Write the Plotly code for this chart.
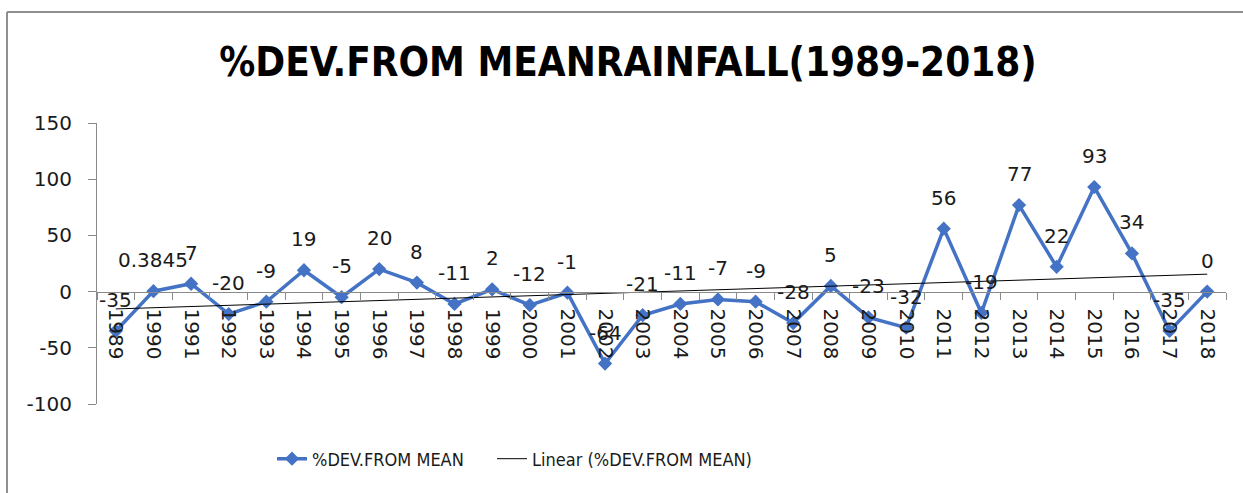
import numpy as np
import plotly.graph_objects as go

years = [str(y) for y in range(1989, 2019)]
dev_values = [-35, 0.3845, 7, -20, -9, 19, -5, 20, 8, -11, 2, -12, -1, -64, -21,
              -11, -7, -9, -28, 5, -23, -32, 56, -19, 77, 22, 93, 34, -35, 0]
dev_labels = ["-35", "0.3845", "7", "-20", "-9", "19", "-5", "20", "8", "-11", "2",
              "-12", "-1", "-64", "-21", "-11", "-7", "-9", "-28", "5", "-23", "-32",
              "56", "-19", "77", "22", "93", "34", "-35", "0"]
y_ticks = [-100, -50, 0, 50, 100, 150]
y_tick_text = ["-100", "-50", "0", "50", "100", "150"]

series_name = "%DEV.FROM MEAN"
trend_name = "Linear (%DEV.FROM MEAN)"
title_text = "%DEV.FROM MEANRAINFALL(1989-2018)"

idx = np.arange(len(dev_values))
slope, intercept = np.polyfit(idx, np.array(dev_values, dtype=float), 1)
trend = slope * idx + intercept

num_font = "DejaVu Sans"
narrow_font = "DejaVu Sans Condensed, sans-serif"
txt_color = "#1a1a1a"
axis_color = "#8a8a8a"

fig = go.Figure()
fig.add_trace(go.Scatter(
    x=years, y=dev_values, mode="lines+markers", name=series_name,
    line=dict(color="#4472C4", width=3.5),
    marker=dict(symbol="diamond", size=11, color="#4472C4"),
    legend="legend",
))
fig.add_trace(go.Scatter(
    x=years, y=trend, mode="lines", name=trend_name,
    line=dict(color="#000000", width=1),
    legend="legend2",
))

for i, (v, lab) in enumerate(zip(dev_values, dev_labels)):
    fig.add_annotation(x=i, y=v, xref="x", yref="y", text=lab, showarrow=False,
                       yanchor="bottom", yshift=17,
                       font=dict(family=num_font, size=20, color=txt_color))

W, H = 1243, 493
ml, mr, mt, mb = 97, 17, 123, 89
pw, ph = W - ml - mr, H - mt - mb

def px_x(p):
    return (p - ml) / pw

def px_y(p):
    return 1 - (p - mt) / ph

border = dict(color="#8f8f8f", width=2)
fig.add_shape(type="line", xref="paper", yref="paper",
              x0=px_x(7), x1=px_x(W + 5), y0=px_y(12), y1=px_y(12), line=border)
fig.add_shape(type="line", xref="paper", yref="paper",
              x0=px_x(7), x1=px_x(7), y0=px_y(12), y1=px_y(H + 5), line=border)

legend_common = dict(orientation="h", yanchor="middle", y=px_y(459), xanchor="left",
                     font=dict(family=narrow_font, size=18, color=txt_color),
                     bgcolor="rgba(0,0,0,0)")

fig.update_layout(
    width=W, height=H,
    margin=dict(l=ml, r=mr, t=mt, b=mb),
    paper_bgcolor="white", plot_bgcolor="white",
    title=dict(text=f"<b>{title_text}</b>", x=628 / W, xanchor="center",
               y=1 - 62 / H, yanchor="middle", yref="container",
               font=dict(family=narrow_font, size=40, color="#000000")),
    xaxis=dict(type="category", range=[-0.5, len(years) - 0.5],
               anchor="free", position=100 / 250,
               showline=True, linecolor=axis_color, linewidth=1,
               ticks="outside", tickson="boundaries", ticklen=7, tickcolor=axis_color,
               tickangle=90, ticklabelstandoff=12,
               tickfont=dict(family=num_font, size=20, color=txt_color),
               showgrid=False, zeroline=False),
    yaxis=dict(range=[-100, 150], tickvals=y_ticks, ticktext=y_tick_text,
               showline=True, linecolor=axis_color, linewidth=1,
               ticks="outside", ticklen=8, tickcolor=axis_color,
               ticklabelstandoff=12,
               tickfont=dict(family=num_font, size=20, color=txt_color),
               showgrid=False, zeroline=False),
    legend=dict(x=px_x(272), **legend_common),
    legend2=dict(x=px_x(492), **legend_common),
    showlegend=True,
)

fig.write_html("out.html", post_script="document.body.style.margin='0';",
               config={"displayModeBar": False})
